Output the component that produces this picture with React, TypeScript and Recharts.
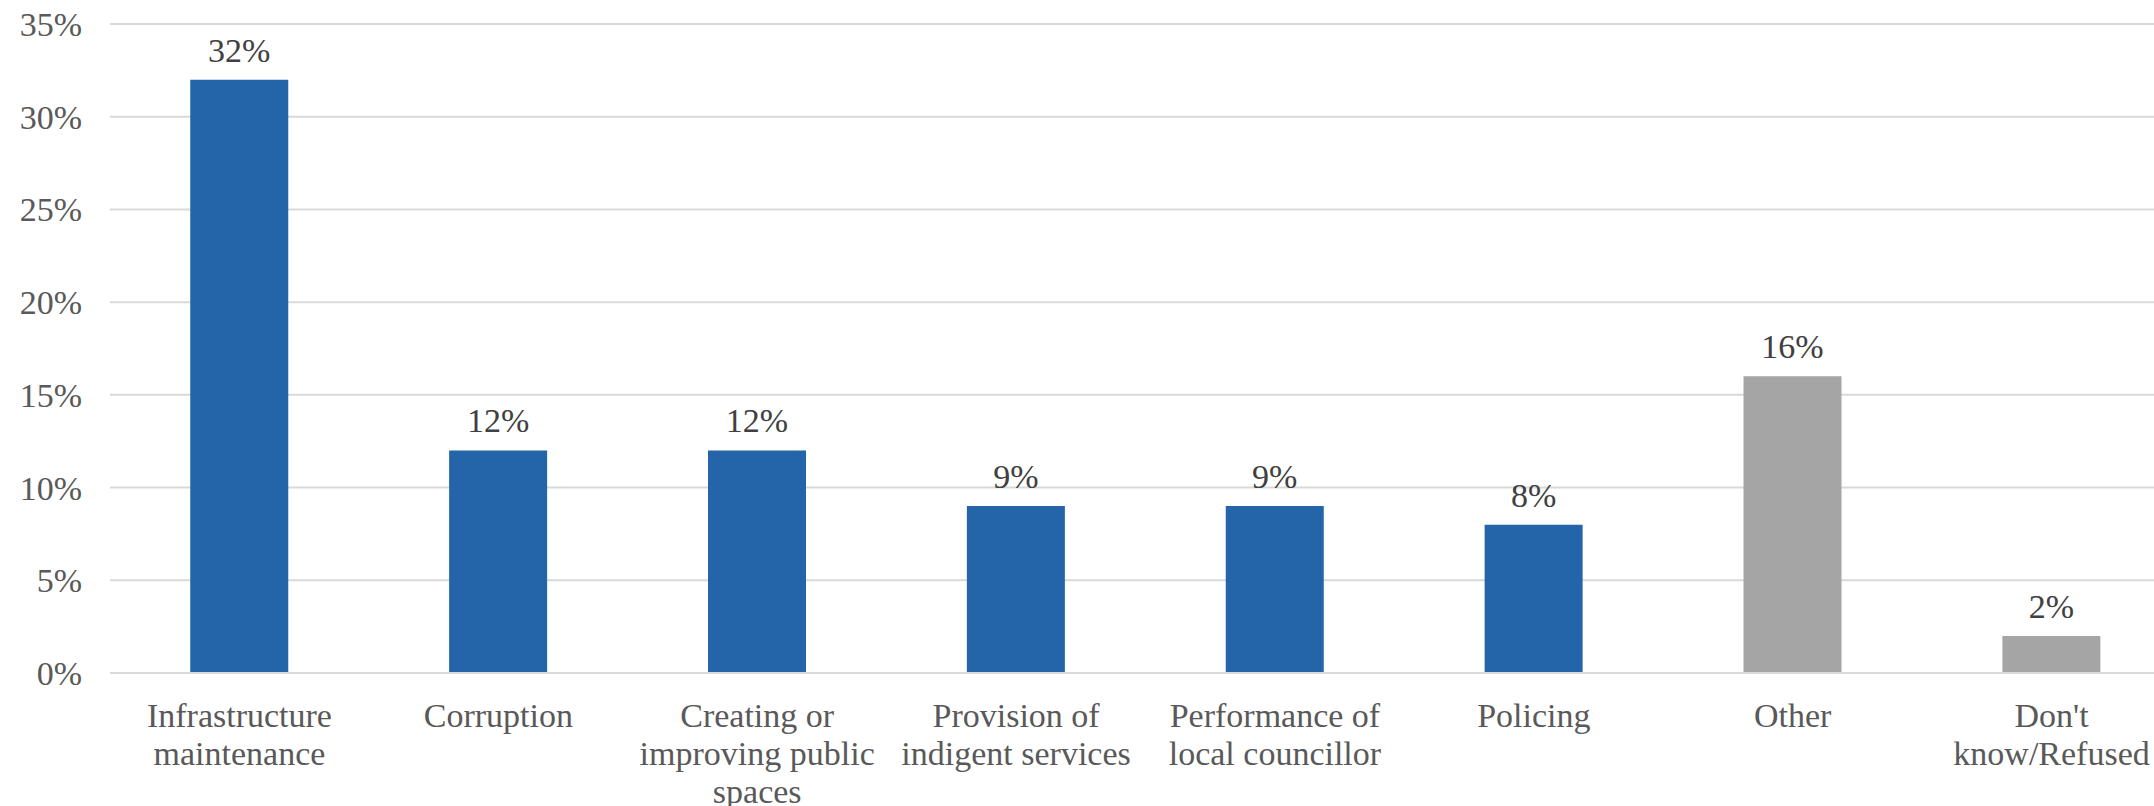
import { Bar, BarChart, CartesianGrid, Cell, LabelList, XAxis, YAxis } from "recharts";

const categories = [
  "Infrastructure maintenance",
  "Corruption",
  "Creating or improving public spaces",
  "Provision of indigent services",
  "Performance of local councillor",
  "Policing",
  "Other",
  "Don't know/Refused",
];

const labelLines = [
  ["Infrastructure", "maintenance"],
  ["Corruption"],
  ["Creating or", "improving public", "spaces"],
  ["Provision of", "indigent services"],
  ["Performance of", "local councillor"],
  ["Policing"],
  ["Other"],
  ["Don't", "know/Refused"],
];

const shares = [0.32, 0.12, 0.12, 0.09, 0.09, 0.08, 0.16, 0.02];
const isOther = [false, false, false, false, false, false, true, true];
const yTicks = [0, 0.05, 0.1, 0.15, 0.2, 0.25, 0.3, 0.35];

const BLUE = "#2464a8";
const GREY = "#a5a5a5";
const FONT = '"Liberation Serif", "DejaVu Serif", serif';

const data = categories.map((name, i) => ({ name, value: shares[i], other: isOther[i] }));

const pct = (v: number) => `${Math.round(v * 100)}%`;

const CategoryTick = ({ x, y, index }: any) => {
  const lines = labelLines[index] || [];
  return (
    <text x={x} y={y} textAnchor="middle" fill="#595959" fontSize={34} fontFamily={FONT}>
      {lines.map((l, i) => (
        <tspan key={i} x={x} dy={i === 0 ? 54 : 38}>
          {l}
        </tspan>
      ))}
    </text>
  );
};

export default function App() {
  return (
    <div style={{ position: "absolute", left: 0, top: 0, width: 2154, height: 806, overflow: "hidden", background: "#fff" }}>
      <BarChart
        width={2200}
        height={806}
        data={data}
        margin={{ top: 24, right: 19, left: 0, bottom: 0 }}
        barCategoryGap="31%"
      >
        <CartesianGrid vertical={false} stroke="#d9d9d9" strokeWidth={2} />
        <XAxis
          dataKey="name"
          tick={<CategoryTick />}
          tickLine={false}
          axisLine={{ stroke: "#d9d9d9", strokeWidth: 2 }}
          tickSize={0}
          tickMargin={0}
          interval={0}
          height={133}
        />
        <YAxis
          width={110}
          domain={[0, 0.35]}
          ticks={yTicks}
          tickFormatter={pct}
          axisLine={false}
          tickLine={false}
          tickSize={20}
          tickMargin={8}
          tick={{ fill: "#595959", fontSize: 34, fontFamily: FONT }}
        />
        <Bar dataKey="value" isAnimationActive={false}>
          {data.map((d, i) => (
            <Cell key={i} fill={d.other ? GREY : BLUE} />
          ))}
          <LabelList
            dataKey="value"
            position="top"
            offset={18}
            formatter={(v: any) => pct(Number(v))}
            style={{ fill: "#404040", fontSize: 34, fontFamily: FONT }}
          />
        </Bar>
      </BarChart>
    </div>
  );
}
